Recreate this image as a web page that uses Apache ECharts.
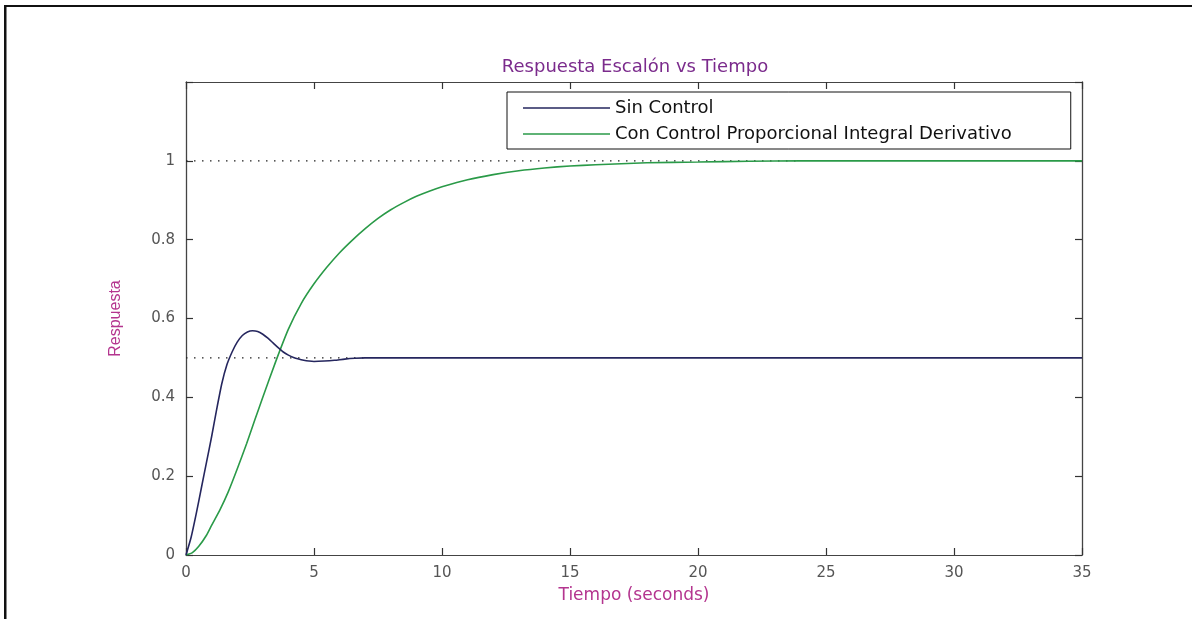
<!DOCTYPE html>
<html>
<head>
<meta charset="utf-8">
<script src="https://cdn.jsdelivr.net/npm/echarts@6/dist/echarts.min.js"></script>
<style>html,body{margin:0;padding:0;background:#fff;}#c{width:1192px;height:619px;}</style>
</head>
<body>
<div id="c"></div>
<script>
const titleText = 'Respuesta Escalón vs Tiempo';
const xName = 'Tiempo (seconds)';
const yName = 'Respuesta';
const seriesNames = ['Sin Control', 'Con Control Proporcional Integral Derivativo'];

const xMin = 0, xMax = 35, xStep = 5;
const yMin = 0, yMax = 1.2, yStep = 0.2;
const yLabelMax = 1;

const tSin = [0,0.2,0.4,0.6,0.8,1.0,1.2,1.4,1.6,1.8,2.0,2.2,2.4,2.6,2.8,3.0,3.2,3.4,3.6,3.8,4.0,4.2,4.4,4.6,4.8,5.0,5.4,5.8,6.2,6.6,7.0,10,15,20,25,30,35];
const ySin = [0,0.045,0.105,0.17,0.235,0.30,0.37,0.435,0.483,0.515,0.54,0.557,0.566,0.569,0.567,0.560,0.550,0.538,0.526,0.515,0.507,0.501,0.497,0.494,0.492,0.491,0.492,0.494,0.497,0.499,0.500,0.5,0.5,0.5,0.5,0.5,0.5];

const tPid = [0,0.25,0.5,0.8,1.0,1.33,1.65,2.0,2.37,2.7,3.0,3.5,4.0,4.5,5.0,5.5,6.0,6.5,7.0,7.5,8.0,8.5,9.0,9.5,10,11,12,13,14,15,16,18,20,22,24,27,30,35];
const yPid = [0,0.006,0.022,0.05,0.075,0.115,0.16,0.218,0.283,0.345,0.40,0.49,0.573,0.638,0.688,0.73,0.767,0.799,0.828,0.854,0.876,0.894,0.91,0.923,0.934,0.952,0.965,0.975,0.982,0.987,0.990,0.995,0.997,0.999,1.0,1.0,1.0,1.0];

// steady-state dotted reference lines
const ssSinT = [0, 7];
const ssSinY = [0.5, 0.5];
const ssPidT = [0, 24];
const ssPidY = [1, 1];

const zip = (a, b) => a.map((v, i) => [v, b[i]]);

const axisColor = '#444';
const tickStyle = { show: true, inside: true, length: 7, lineStyle: { color: '#333', width: 1.2 } };
const tickFont = { fontFamily: 'DejaVu Sans', fontSize: 15, color: '#555' };

const chart = echarts.init(document.getElementById('c'), null, { renderer: 'canvas' });
chart.setOption({
  backgroundColor: '#fff',
  animation: false,
  title: {
    text: titleText,
    left: 630,
    top: 53,
    textAlign: 'center',
    textStyle: { fontFamily: 'DejaVu Sans', fontSize: 18, fontWeight: 'normal', color: '#7b2b8c' }
  },
  legend: {
    data: seriesNames,
    orient: 'vertical',
    left: 507,
    top: 92,
    icon: 'rect',
    itemWidth: 87,
    itemHeight: 1.6,
    itemGap: 8,
    padding: [7, 59, 6, 16],
    borderColor: '#111',
    borderWidth: 1,
    backgroundColor: '#fff',
    textStyle: { fontFamily: 'DejaVu Sans', fontSize: 18, color: '#111' }
  },
  grid: { left: 186, right: 110, top: 82, bottom: 64, containLabel: false },
  xAxis: [
    {
      type: 'value', min: xMin, max: xMax, interval: xStep, position: 'bottom',
      name: xName, nameLocation: 'middle', nameGap: 32,
      nameTextStyle: { fontFamily: 'DejaVu Sans', fontSize: 17, color: '#b4358f' },
      axisLine: { show: true, onZero: false, lineStyle: { color: axisColor, width: 1 } },
      axisTick: tickStyle,
      axisLabel: Object.assign({ margin: 11 }, tickFont),
      splitLine: { show: false }
    },
    {
      type: 'value', min: xMin, max: xMax, interval: xStep, position: 'top',
      axisLine: { show: true, onZero: false, lineStyle: { color: axisColor, width: 1 } },
      axisTick: tickStyle,
      axisLabel: { show: false },
      splitLine: { show: false }
    }
  ],
  yAxis: [
    {
      type: 'value', min: yMin, max: yMax, interval: yStep, position: 'left',
      name: yName, nameLocation: 'middle', nameGap: 62, nameRotate: 90,
      nameTextStyle: { fontFamily: 'Liberation Sans', fontSize: 16, color: '#b4358f' },
      axisLine: { show: true, onZero: false, lineStyle: { color: axisColor, width: 1.3 } },
      axisTick: tickStyle,
      axisLabel: Object.assign({
        margin: 11,
        formatter: v => (v > yLabelMax + 1e-9 ? '' : String(Math.round(v * 10) / 10))
      }, tickFont),
      splitLine: { show: false }
    },
    {
      type: 'value', min: yMin, max: yMax, interval: yStep, position: 'right',
      axisLine: { show: true, onZero: false, lineStyle: { color: axisColor, width: 1.3 } },
      axisTick: tickStyle,
      axisLabel: { show: false },
      splitLine: { show: false }
    }
  ],
  series: [
    {
      name: 'ssSin', type: 'line', data: zip(ssSinT, ssSinY), symbol: 'none', silent: true,
      lineStyle: { color: '#222', width: 1.2, type: [1.5, 6.5] }, z: 1
    },
    {
      name: 'ssPid', type: 'line', xAxisIndex: 1, yAxisIndex: 1, data: zip(ssPidT, ssPidY), symbol: 'none', silent: true,
      lineStyle: { color: '#222', width: 1.2, type: [1.5, 6.5] }, z: 1
    },
    {
      name: seriesNames[0], type: 'line', data: zip(tSin, ySin), symbol: 'none', smooth: 0.2,
      lineStyle: { color: '#25265e', width: 1.6 }, itemStyle: { color: '#25265e' }, z: 3
    },
    {
      name: seriesNames[1], type: 'line', data: zip(tPid, yPid), symbol: 'none', smooth: 0.2,
      lineStyle: { color: '#2a9a48', width: 1.6 }, itemStyle: { color: '#2a9a48' }, z: 2
    }
  ],
  graphic: [
    { type: 'line', shape: { x1: 4, y1: 6, x2: 1192, y2: 6 }, style: { stroke: '#111', lineWidth: 2 }, silent: true },
    { type: 'line', shape: { x1: 5.25, y1: 5, x2: 5.25, y2: 619 }, style: { stroke: '#111', lineWidth: 2.5 }, silent: true }
  ]
});
</script>
</body>
</html>
